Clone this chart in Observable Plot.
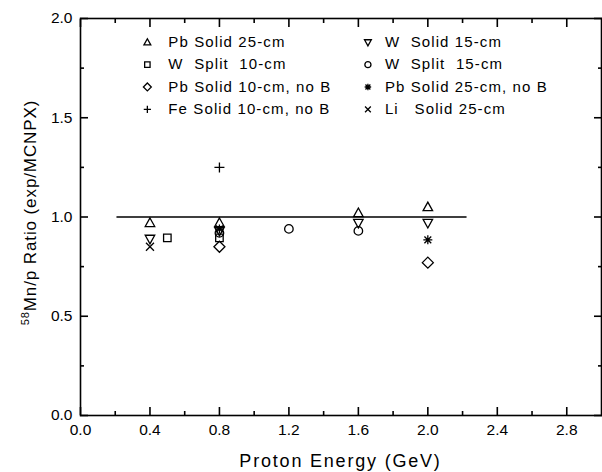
<!DOCTYPE html>
<html><head><meta charset="utf-8">
<script src="https://cdn.jsdelivr.net/npm/d3@7"></script>
<script src="https://cdn.jsdelivr.net/npm/@observablehq/plot@0.6"></script>
<style>
body{margin:0;background:#fff}
#chart svg{font-family:'Liberation Sans', Arial, sans-serif;font-size:15px;background:#fff;color:#000}
svg text{white-space:pre}
</style>
</head><body><div id="chart"></div>
<script>
// ---- data ----
const seriesNames = [
  "Pb Solid 25-cm", "W  Solid 15-cm",
  "W  Split  10-cm", "W  Split  15-cm",
  "Pb Solid 10-cm, no B", "Pb Solid 25-cm, no B",
  "Fe Solid 10-cm, no B", "Li   Solid 25-cm"
];
const pbSolid25X = [0.4, 0.8, 1.6, 2.0];
const pbSolid25Y = [0.97, 0.97, 1.02, 1.05];
const wSolid15X = [0.4, 0.8, 1.6, 2.0];
const wSolid15Y = [0.89, 0.93, 0.97, 0.97];
const wSplit10X = [0.5, 0.8];
const wSplit10Y = [0.895, 0.895];
const wSplit15X = [0.8, 1.2, 1.6];
const wSplit15Y = [0.92, 0.94, 0.93];
const pbSolid10NoBX = [0.8, 2.0];
const pbSolid10NoBY = [0.85, 0.77];
const pbSolid25NoBX = [0.8, 2.0];
const pbSolid25NoBY = [0.94, 0.885];
const feSolid10NoBX = [0.8];
const feSolid10NoBY = [1.25];
const liSolid25X = [0.4];
const liSolid25Y = [0.85];

const refLineX = [0.21, 2.22];
const refLineY = 1.0;

const xTickValues = [0, 0.4, 0.8, 1.2, 1.6, 2.0, 2.4, 2.8];
const xMinorTicks = [0.2, 0.6, 1.0, 1.4, 1.8, 2.2, 2.6];
const yTickValues = [0, 0.5, 1.0, 1.5, 2.0];
const yMinorTicks = [0.25, 0.75, 1.25, 1.75];
const xTitle = "Proton Energy (GeV)";
const yTitleSup = "58";
const yTitle = "Mn/p Ratio (exp/MCNPX)";

// ---- symbols ----
function sym(fn){ return { draw(c, size){ const r = Math.sqrt(size/Math.PI); fn(c, r); } }; }
const triUp = sym((c,r)=>{ c.moveTo(0,-r); c.lineTo(r*0.95, r*0.72); c.lineTo(-r*0.95, r*0.72); c.closePath(); });
const triDown = sym((c,r)=>{ c.moveTo(0,r); c.lineTo(r*0.95,-r*0.72); c.lineTo(-r*0.95,-r*0.72); c.closePath(); });
const square = sym((c,r)=>{ c.rect(-0.75*r,-0.75*r,1.5*r,1.5*r); });
const circle = sym((c,r)=>{ const q=0.85*r; c.moveTo(q,0); c.arc(0,0,q,0,2*Math.PI); });
const diamond = sym((c,r)=>{ const q=1.1*r; c.moveTo(0,-q); c.lineTo(q,0); c.lineTo(0,q); c.lineTo(-q,0); c.closePath(); });
const plus = sym((c,r)=>{ c.moveTo(-r,0); c.lineTo(r,0); c.moveTo(0,-r); c.lineTo(0,r); });
const times = sym((c,r)=>{ const q=0.8*r; c.moveTo(-q,-q); c.lineTo(q,q); c.moveTo(q,-q); c.lineTo(-q,q); });
const aster = sym((c,r)=>{ const a=0.9*r, q=0.68*r; c.moveTo(-a,0); c.lineTo(a,0); c.moveTo(0,-a); c.lineTo(0,a); c.moveTo(-q,-q); c.lineTo(q,q); c.moveTo(q,-q); c.lineTo(-q,q); });

const seriesX = [pbSolid25X, wSolid15X, wSplit10X, wSplit15X, pbSolid10NoBX, pbSolid25NoBX, feSolid10NoBX, liSolid25X];
const seriesY = [pbSolid25Y, wSolid15Y, wSplit10Y, wSplit15Y, pbSolid10NoBY, pbSolid25NoBY, feSolid10NoBY, liSolid25Y];
const seriesSym = [triUp, triDown, square, circle, diamond, aster, plus, times];

const series = seriesNames.map((name, i) => ({
  name, symbol: seriesSym[i],
  rows: seriesX[i].map((x, j) => ({x, y: seriesY[i][j]}))
}));

// ---- layout ----
const width = 602, height = 472;
const mL = 80, mR = 1, mT = 18, mB = 57;
const H = height - mT - mB, W = width - mL - mR;

const legend = seriesNames.map((name, i) => ({
  name, symbol: seriesSym[i],
  col: i % 2,
  x: i % 2 === 0 ? 0.385 : 1.655,
  y: 1.88 - Math.floor(i / 2) * 0.1125
}));

const tk = {stroke: "black", strokeWidth: 1.6, text: null, label: null};
const marks = [
  Plot.frame({stroke: "black", fill: "none", strokeWidth: 1.6}),
  Plot.axisX({ticks: xTickValues, tickSize: 0, tickPadding: 8, tickFormat: d3.format(".1f"), label: null, fontSize: 15.5}),
  Plot.axisY({ticks: yTickValues, tickSize: 0, tickPadding: 8, tickFormat: d3.format(".1f"), label: null, fontSize: 15.5}),
  // inward tick marks on all four sides
  Plot.axisX({anchor: "bottom", ticks: xTickValues, tickSize: -8, ...tk}),
  Plot.axisX({anchor: "top", ticks: xTickValues, tickSize: -8, ...tk}),
  Plot.axisX({anchor: "bottom", ticks: xMinorTicks, tickSize: -4, ...tk}),
  Plot.axisX({anchor: "top", ticks: xMinorTicks, tickSize: -4, ...tk}),
  Plot.axisY({anchor: "left", ticks: yTickValues, tickSize: -8, ...tk}),
  Plot.axisY({anchor: "right", ticks: yTickValues, tickSize: -8, ...tk}),
  Plot.axisY({anchor: "left", ticks: yMinorTicks, tickSize: -4, ...tk}),
  Plot.axisY({anchor: "right", ticks: yMinorTicks, tickSize: -4, ...tk}),
  Plot.line(refLineX.map(x => ({x, y: refLineY})), {x: "x", y: "y", stroke: "black", strokeWidth: 1.4})
];
for (const s of series) {
  marks.push(Plot.dot(s.rows, {x: "x", y: "y", symbol: s.symbol, r: 5, stroke: "black", fill: "none", strokeWidth: 1.3}));
}
for (const l of legend) {
  marks.push(Plot.dot([l], {x: "x", y: "y", symbol: l.symbol, r: 3.6, stroke: "black", fill: "none", strokeWidth: 1.3}));
}
marks.push(Plot.text(legend.filter(d => d.col === 0), {x: "x", y: "y", text: "name", dx: 21, textAnchor: "start", fontSize: 15, fill: "black"}));
marks.push(Plot.text(legend.filter(d => d.col === 1), {x: "x", y: "y", text: "name", dx: 17, textAnchor: "start", fontSize: 15, fill: "black"}));

const chart = Plot.plot({
  width, height,
  marginLeft: mL, marginRight: mR, marginTop: mT, marginBottom: mB,
  x: {domain: [0, 3]},
  y: {domain: [0, 2]},
  marks
});

const svg = d3.select(chart);
svg.selectAll("g[aria-label=text] text").attr("letter-spacing", 1.1);
svg.append("text")
  .attr("x", mL + W / 2).attr("y", 467)
  .attr("text-anchor", "middle").attr("font-size", 18).attr("letter-spacing", 1.8).attr("fill", "black")
  .text(xTitle);
const yt = svg.append("text")
  .attr("transform", `translate(36,${mT + H / 2 - 4}) rotate(-90)`)
  .attr("text-anchor", "middle").attr("font-size", 17).attr("letter-spacing", 0.9).attr("fill", "black");
yt.append("tspan").attr("font-size", 11).attr("dy", -7).text(yTitleSup);
yt.append("tspan").attr("dy", 7).text(yTitle);

document.getElementById("chart").appendChild(chart);
</script>
</body></html>
